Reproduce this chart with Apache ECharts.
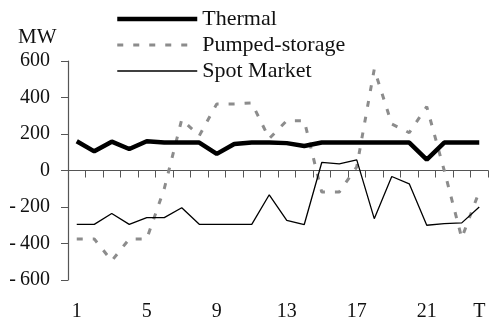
<!DOCTYPE html>
<html>
<head>
<meta charset="utf-8">
<script src="https://cdn.jsdelivr.net/npm/echarts@6/dist/echarts.min.js"></script>
<style>
html,body{margin:0;padding:0;background:#fff;}
#c{width:489px;height:324px;}
</style>
</head>
<body>
<div id="c"></div>
<script>
var categories = ['1','2','3','4','5','6','7','8','9','10','11','12','13','14','15','16','17','18','19','20','21','22','23','T'];
var thermal = [160,105,158,118,160,153,153,153,91,145,153,153,150,134,153,153,153,153,153,153,60,153,153,153];
var pumpedStorage = [-375,-375,-495,-375,-375,-100,280,190,365,365,370,175,273,273,-118,-118,20,555,255,207,350,0,-370,-115];
var spotMarket = [-295,-295,-236,-295,-258,-258,-204,-295,-295,-295,-295,-133,-273,-296,44,36,58,-264,-33,-73,-300,-291,-287,-200];
var yTicks = {min:-600, max:600, interval:200};
var unitLabel = 'MW';

var FONT = "'Liberation Serif','Times New Roman',serif";
var BLANK = 'image://data:image/gif;base64,R0lGODlhAQABAIAAAAAAAP///yH5BAEAAAAALAAAAAABAAEAAAIBRAA7';
var chart = echarts.init(document.getElementById('c'), null, {renderer:'canvas'});
chart.setOption({
  animation:false,
  backgroundColor:'#fff',
  textStyle:{fontFamily:FONT},
  graphic:[{type:'text', left:18, top:27, style:{text:unitLabel, font:'21px '+FONT, fill:'#111'}}],
  legend:{
    orient:'vertical', left:115, top:8, padding:0, itemWidth:80, itemHeight:14, itemGap:4,
    textStyle:{fontFamily:FONT, fontSize:22, color:'#111'},
    data:[
      {name:'Thermal', lineStyle:{width:4.5, color:'#000'}},
      {name:'Pumped-storage', lineStyle:{width:3, color:'#8c8c8c', type:[6,10]}},
      {name:'Spot Market', lineStyle:{width:1.3, color:'#000'}}
    ]
  },
  grid:{left:68, right:1, top:61, bottom:44, containLabel:false},
  xAxis:{
    type:'category', data:categories, boundaryGap:true,
    axisLine:{lineStyle:{color:'#555', width:1.2}},
    axisTick:{show:true, interval:0, length:7, lineStyle:{color:'#555'}},
    axisLabel:{
      interval:function(i){return i%4===0 || i===categories.length-1;},
      margin:22, fontSize:20, fontFamily:FONT, color:'#111'
    },
    splitLine:{show:false}
  },
  yAxis:{
    type:'value', min:yTicks.min, max:yTicks.max, interval:yTicks.interval,
    axisLine:{show:true, lineStyle:{color:'#555', width:1.2}},
    axisTick:{show:true, length:7, lineStyle:{color:'#555'}},
    axisLabel:{margin:18, fontSize:20, fontFamily:FONT, color:'#111',
      formatter:function(v){return v<0 ? '-\u2009'+Math.abs(v) : String(v);}},
    splitLine:{show:false}
  },
  series:[
    {name:'Thermal', type:'line', data:thermal, symbol:BLANK, showSymbol:false, z:5,
     lineStyle:{color:'#000', width:4.5}, itemStyle:{color:'#000'}},
    {name:'Pumped-storage', type:'line', data:pumpedStorage, symbol:BLANK, showSymbol:false, z:3,
     lineStyle:{color:'#8c8c8c', width:3, type:[6,10]}, itemStyle:{color:'#8c8c8c'}},
    {name:'Spot Market', type:'line', data:spotMarket, symbol:BLANK, showSymbol:false, z:4,
     lineStyle:{color:'#000', width:1.3}, itemStyle:{color:'#000'}}
  ]
});
</script>
</body>
</html>
